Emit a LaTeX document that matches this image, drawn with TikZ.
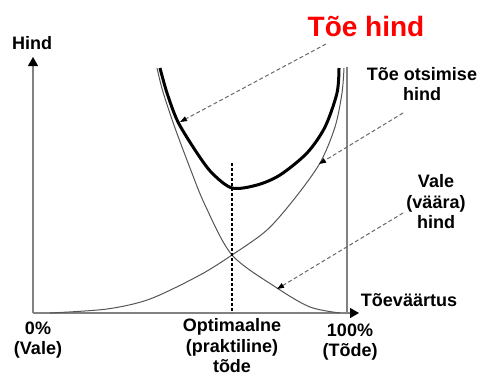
\documentclass[tikz,border=0pt]{standalone}
\usepackage{fontspec}
\setmainfont{Liberation Sans}
\usetikzlibrary{arrows.meta}
\definecolor{axisgray}{RGB}{130,130,130}
\definecolor{curvegray}{RGB}{85,85,85}
\definecolor{hintgray}{RGB}{105,105,105}
\definecolor{titlered}{RGB}{255,0,0}
\tikzset{
    lbl/.style={font=\fontsize{18}{20.5}\selectfont\bfseries, align=center, inner sep=0pt},
    title/.style={font=\fontsize{28}{32}\selectfont\bfseries, text=titlered, inner sep=0pt},
    axis/.style={line width=1.3pt, color=axisgray, -{Triangle[length=9pt, width=10pt, color=black]}},
    axisline/.style={line width=1.3pt, color=axisgray},
    thincurve/.style={line width=1pt, color=curvegray},
    sumcurve/.style={line width=3pt, color=black},
    hint/.style={dash pattern=on 4pt off 2.5pt, line width=1pt, color=hintgray, -{Triangle[length=7pt, width=5pt, color=black]}},
    optline/.style={dash pattern=on 3pt off 2pt, line width=1.8pt, color=black}
}
\begin{document}
\begin{tikzpicture}[x=1pt, y=-1pt]
    \useasboundingbox (0,0) rectangle (481,376);

    % Axes
    \coordinate (origin) at (33,313);
    \coordinate (ytop) at (33,57);
    \coordinate (xend) at (359,313);
    \coordinate (fullbot) at (347,313);
    \coordinate (fulltop) at (347,67);
    \draw [axis] (origin) -- (ytop);
    \draw [axis] (origin) -- (xend);
    \draw [axisline] (fullbot) -- (fulltop);

    % Labels
    \node (lblhind) [lbl] at (32,43) {Hind};
    \node (lblsum) [title] at (366,26) {Tõe hind};
    \node (lblseek) [lbl] at (422,84) {Tõe otsimise\\hind};
    \node (lblfalse) [lbl] at (436,202) {Vale\\(väära)\\hind};
    \node (lbltruth) [lbl] at (409,300) {Tõeväärtus};
    \node (lblzero) [lbl] at (38,340) {0\%\\(Vale)};
    \node (lblopt) [lbl] at (232,346) {Optimaalne\\(praktiline)\\tõde};
    \node (lblfull) [lbl] at (350,342) {100\%\\(Tõde)};

    % Curves
    \draw [thincurve] plot [smooth, tension=0.5] coordinates {(50,313) (107,309) (150,299) (200,275) (232,255) (267,230) (295,198) (320,163) (335,127) (342,93) (344,68)};
    \draw [thincurve] plot [smooth, tension=0.5] coordinates {(157,68) (163,92) (175,128) (190,168) (205,205) (232,255) (277,288) (310,307) (340,313)};
    \draw [sumcurve] plot [smooth, tension=0.5] coordinates {(160,68) (167,93) (178,122) (197,153) (212,173) (232,188) (257,185) (280,175) (307,153) (325,127) (337,93) (339,68)};

    % Optimum
    \coordinate (opttop) at (232,163);
    \coordinate (optbot) at (232,313);
    \draw [optline] (opttop) -- (optbot);

    % Pointers
    \coordinate (sumfrom) at (326,44);
    \coordinate (sumtip) at (180,122);
    \coordinate (seekfrom) at (403,113);
    \coordinate (seektip) at (319,164);
    \coordinate (falsefrom) at (403,213);
    \coordinate (falsetip) at (277,289);
    \draw [hint] (sumfrom) -- (sumtip);
    \draw [hint] (seekfrom) -- (seektip);
    \draw [hint] (falsefrom) -- (falsetip);

\end{tikzpicture}
\end{document}
